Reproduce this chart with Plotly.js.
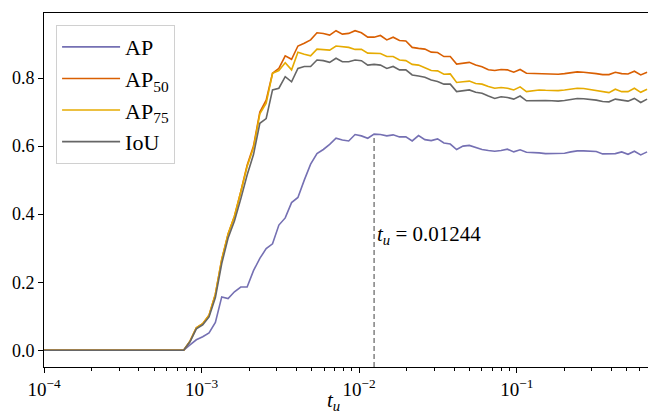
<!DOCTYPE html>
<html>
<head>
<meta charset="utf-8">
<script src="https://cdn.plot.ly/plotly-3.0.1.min.js"></script>
<style>html,body{margin:0;padding:0;background:#fff;}#chart{width:648px;height:414px;}</style>
</head>
<body>
<div id="chart"></div>
<script>
// threshold values t_u (x axis, log scale)
const tVals = [1e-4,
  7.696e-4, 8.445e-4, 9.262e-4, 1.0166e-3, 1.1152e-3, 1.2235e-3, 1.3425e-3, 1.4734e-3, 1.6167e-3, 1.7736e-3,
  1.9456e-3, 2.1352e-3, 2.3427e-3, 2.5703e-3, 2.8200e-3, 3.0943e-3, 3.3945e-3, 3.7248e-3, 4.0868e-3, 4.4844e-3,
  4.9201e-3, 5.3990e-3, 5.9240e-3, 6.5005e-3, 7.1318e-3, 7.8256e-3, 8.5858e-3, 9.4184e-3, 1.0334e-2, 1.1337e-2,
  1.2439e-2, 1.3648e-2, 1.4977e-2, 1.6432e-2, 1.8030e-2, 1.9784e-2, 2.1705e-2, 2.3815e-2, 2.6128e-2, 2.8667e-2,
  3.1455e-2, 3.4514e-2, 3.7864e-2, 4.1545e-2, 4.5587e-2, 5.0015e-2, 5.4883e-2, 6.0220e-2, 6.6081e-2, 7.2497e-2,
  7.9550e-2, 8.7281e-2, 9.5741e-2, 1.0505e-1, 1.1526e-1, 1.2645e-1, 1.3874e-1, 1.5225e-1, 1.6703e-1, 1.8327e-1,
  2.0107e-1, 2.2064e-1, 2.4208e-1, 2.6560e-1, 2.9142e-1, 3.1975e-1, 3.5083e-1, 3.8491e-1, 4.2230e-1, 4.6340e-1,
  5.0841e-1, 5.5786e-1, 6.1217e-1, 6.7165e-1];

const AP = [0,
  0, 0.016, 0.031, 0.040, 0.051, 0.082, 0.157, 0.152, 0.172, 0.186,
  0.186, 0.234, 0.270, 0.299, 0.313, 0.368, 0.389, 0.434, 0.449, 0.500,
  0.547, 0.578, 0.590, 0.605, 0.623, 0.618, 0.615, 0.634, 0.630, 0.623,
  0.635, 0.634, 0.630, 0.633, 0.627, 0.627, 0.615, 0.631, 0.619, 0.616,
  0.621, 0.609, 0.606, 0.590, 0.600, 0.602, 0.596, 0.590, 0.587, 0.585,
  0.587, 0.591, 0.583, 0.589, 0.582, 0.582, 0.580, 0.578, 0.578, 0.578,
  0.579, 0.583, 0.586, 0.586, 0.585, 0.584, 0.577, 0.577, 0.578, 0.583,
  0.576, 0.585, 0.574, 0.583];

const AP50 = [0,
  0, 0.027, 0.066, 0.078, 0.103, 0.165, 0.267, 0.342, 0.394, 0.466,
  0.544, 0.600, 0.700, 0.735, 0.814, 0.828, 0.865, 0.855, 0.894, 0.902,
  0.912, 0.933, 0.931, 0.926, 0.939, 0.929, 0.931, 0.939, 0.933, 0.920,
  0.920, 0.925, 0.912, 0.920, 0.910, 0.909, 0.890, 0.887, 0.885, 0.876,
  0.875, 0.863, 0.863, 0.841, 0.843, 0.846, 0.838, 0.833, 0.824, 0.822,
  0.825, 0.824, 0.817, 0.825, 0.814, 0.813, 0.812, 0.811, 0.811, 0.811,
  0.813, 0.815, 0.818, 0.817, 0.816, 0.813, 0.810, 0.810, 0.817, 0.813,
  0.812, 0.820, 0.809, 0.817];

const AP75 = [0,
  0, 0.027, 0.066, 0.078, 0.103, 0.165, 0.267, 0.342, 0.394, 0.466,
  0.540, 0.595, 0.695, 0.726, 0.814, 0.822, 0.845, 0.824, 0.876, 0.870,
  0.865, 0.885, 0.884, 0.882, 0.894, 0.892, 0.890, 0.884, 0.884, 0.873,
  0.873, 0.872, 0.863, 0.863, 0.853, 0.851, 0.840, 0.838, 0.830, 0.822,
  0.821, 0.811, 0.812, 0.787, 0.789, 0.791, 0.784, 0.782, 0.775, 0.770,
  0.772, 0.770, 0.765, 0.774, 0.760, 0.763, 0.765, 0.764, 0.763, 0.763,
  0.765, 0.767, 0.770, 0.769, 0.766, 0.765, 0.760, 0.757, 0.767, 0.760,
  0.760, 0.770, 0.758, 0.767];

const IoU = [0,
  0, 0.025, 0.063, 0.075, 0.098, 0.155, 0.255, 0.330, 0.380, 0.445,
  0.515, 0.575, 0.667, 0.681, 0.765, 0.770, 0.804, 0.789, 0.828, 0.834,
  0.834, 0.853, 0.851, 0.846, 0.858, 0.848, 0.848, 0.853, 0.851, 0.838,
  0.840, 0.838, 0.828, 0.834, 0.824, 0.824, 0.809, 0.806, 0.802, 0.794,
  0.790, 0.782, 0.782, 0.760, 0.763, 0.765, 0.758, 0.755, 0.747, 0.740,
  0.745, 0.743, 0.738, 0.747, 0.733, 0.734, 0.735, 0.734, 0.733, 0.732,
  0.734, 0.737, 0.740, 0.739, 0.738, 0.735, 0.731, 0.730, 0.738, 0.734,
  0.732, 0.740, 0.728, 0.738];

const seriesNames = ['AP', 'AP<sub>50</sub>', 'AP<sub>75</sub>', 'IoU'];
const seriesColors = ['#7570b3', '#d95f02', '#e6ab02', '#666666'];
const seriesData = [AP, AP50, AP75, IoU];

const tU = 0.01244;
const apAtTu = 0.635;
const yMin = -0.049, yMax = 0.991;

const xTickVals = [1e-4, 1e-3, 1e-2, 1e-1];
const xTickText = ['10<sup>−4</sup>', '10<sup>−3</sup>', '10<sup>−2</sup>', '10<sup>−1</sup>'];
const yTickVals = [0, 0.2, 0.4, 0.6, 0.8];
const yTickText = ['0.0', '0.2', '0.4', '0.6', '0.8'];
const xTitle = '<i>t</i><sub><i>u</i></sub>';

const minorVals = [];
[1e-4, 1e-3, 1e-2, 1e-1].forEach(d => { for (let m = 2; m <= 9; m++) minorVals.push(m * d); });

const serif = "'Liberation Serif', 'Times New Roman', serif";

const traces = [{
  x: [tU, tU], y: [yMin, apAtTu], mode: 'lines', showlegend: false, hoverinfo: 'skip',
  line: {color: '#808080', width: 1.5, dash: '5px,3px'}
}];
seriesData.forEach((d, i) => {
  traces.push({x: tVals, y: d, name: seriesNames[i], mode: 'lines',
    line: {color: seriesColors[i], width: 1.6}});
});

const layout = {
  width: 648, height: 414,
  margin: {l: 44, r: 0, t: 13, b: 47},
  paper_bgcolor: '#fff', plot_bgcolor: '#fff',
  font: {family: serif, color: '#000', size: 17},
  showlegend: true,
  legend: {x: 0.02, y: 0.966, xanchor: 'left', yanchor: 'top',
    bgcolor: 'rgba(255,255,255,0.8)', bordercolor: '#d0d0d0', borderwidth: 1,
    itemwidth: 58,
    font: {family: serif, size: 22, color: '#000'}},
  xaxis: {type: 'log', range: [-4, -0.167], autorange: false,
    tickmode: 'array', tickvals: xTickVals, ticktext: xTickText,
    ticks: 'outside', ticklen: 5, tickwidth: 1, tickcolor: '#000',
    showline: true, linecolor: '#000', linewidth: 1, mirror: true,
    showgrid: false, zeroline: false,
    tickfont: {family: serif, size: 19},
    minor: {tickmode: 'array', tickvals: minorVals, ticks: 'outside', ticklen: 3, tickwidth: 1, tickcolor: '#000', showgrid: false}
  },
  yaxis: {range: [yMin, yMax], autorange: false,
    tickmode: 'array', tickvals: yTickVals, ticktext: yTickText,
    ticks: 'outside', ticklen: 5, tickwidth: 1, tickcolor: '#000',
    showline: true, linecolor: '#000', linewidth: 1, mirror: false,
    showgrid: false, zeroline: false,
    tickfont: {family: serif, size: 18}
  },
  annotations: [{
    x: Math.log10(tU), y: 0.34, xref: 'x', yref: 'y', xanchor: 'left', yanchor: 'middle',
    xshift: 1, showarrow: false,
    text: '<i>t</i><sub><i>u</i></sub> = 0.01244',
    font: {family: serif, size: 21, color: '#000'}
  }, {
    x: 0.48, y: -0.095, xref: 'paper', yref: 'paper', xanchor: 'center', yanchor: 'middle',
    showarrow: false, text: xTitle,
    font: {family: serif, size: 21, color: '#000'}
  }]
};

Plotly.newPlot('chart', traces, layout, {staticPlot: true, displayModeBar: false});
</script>
</body>
</html>
